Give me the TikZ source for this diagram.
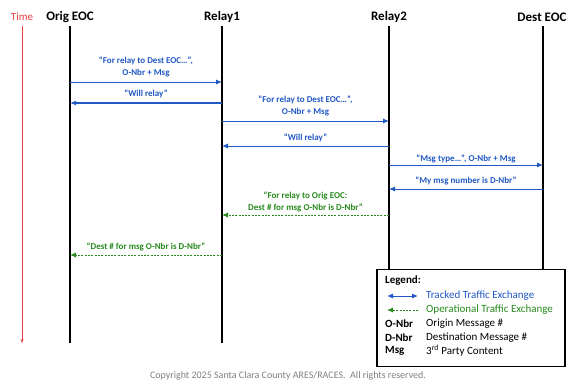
\documentclass[tikz,border=0pt]{standalone}
\usepackage{fontspec}
\setmainfont{Carlito}
\usetikzlibrary{arrows.meta, positioning}
\definecolor{trackblue}{RGB}{32,88,196}
\definecolor{opgreen}{RGB}{40,138,30}
\definecolor{timered}{RGB}{232,60,60}

\begin{document}
\begin{tikzpicture}[x=1pt, y=-1pt]
\tikzstyle{party}=[font=\bfseries\fontsize{13}{15}\selectfont, inner sep=0pt]
\tikzstyle{lifeline}=[line width=2.3pt, black]
\tikzstyle{tracked}=[-{Latex[length=6pt,width=5pt]}, trackblue, line width=0.9pt]
\tikzstyle{operational}=[-{Latex[length=6pt,width=5pt]}, opgreen, line width=0.8pt, dash pattern=on 2pt off 1.3pt]
\tikzstyle{msg}=[font=\bfseries\fontsize{9}{11.5}\selectfont, align=center, inner sep=1pt]
\tikzstyle{key}=[font=\fontsize{11}{13}\selectfont, anchor=west, inner sep=0pt]
\tikzstyle{keybold}=[key, font=\bfseries\fontsize{11}{13}\selectfont]
\useasboundingbox (0,0) rectangle (573,383);

% parties
\node (time) [font=\fontsize{11}{13}\selectfont, text=timered, inner sep=0pt] at (22,17) {Time};
\node (orig) [party] at (70,17) {Orig EOC};
\node (relay1) [party] at (222,17) {Relay1};
\node (relay2) [party] at (389,17) {Relay2};
\node (dest) [party] at (542,17) {Dest EOC};

% time axis and lifelines
\coordinate (timetop) at (22,26);
\coordinate (timeend) at (22,343);
\draw [-{Stealth[length=4pt,width=3pt]}, timered, line width=0.6pt] (timetop) -- (timeend);
\draw [lifeline] (70,26) -- (70,343);
\draw [lifeline] (222,26) -- (222,343);
\draw [lifeline] (389,26) -- (389,270);
\draw [lifeline] (543,26) -- (543,270);

% messages
\coordinate (o1) at (70,82);   \coordinate (r1a) at (222,82);
\coordinate (o2) at (70,103);  \coordinate (r1b) at (222,103);
\coordinate (r1c) at (222,121); \coordinate (r2a) at (389,121);
\coordinate (r1d) at (222,146); \coordinate (r2b) at (389,146);
\coordinate (r2c) at (389,165); \coordinate (d1) at (543,165);
\coordinate (r2d) at (389,189); \coordinate (d2) at (543,189);
\coordinate (r1e) at (222,215); \coordinate (r2e) at (389,215);
\coordinate (o3) at (70,255);  \coordinate (r1f) at (222,255);

\draw [tracked] (o1) -- node[msg, anchor=south, yshift=4pt]{``For relay to Dest EOC…'',\\O-Nbr + Msg} (r1a);
\draw [tracked, line width=1.2pt] (r1b) -- node[msg, anchor=south, yshift=3pt]{``Will relay''} (o2);
\draw [tracked] (r1c) -- node[msg, anchor=south, yshift=4pt]{``For relay to Dest EOC…'',\\O-Nbr + Msg} (r2a);
\draw [tracked] (r2b) -- node[msg, anchor=south, yshift=3pt]{``Will relay''} (r1d);
\draw [tracked] (r2c) -- node[msg, anchor=south, yshift=1pt]{``Msg type…'', O-Nbr + Msg} (d1);
\draw [tracked] (d2) -- node[msg, anchor=south, yshift=3pt]{``My msg number is D-Nbr''} (r2d);
\draw [operational] (r2e) -- node[msg, anchor=south, yshift=2pt, text=opgreen]{``For relay to Orig EOC:\\Dest \# for msg O-Nbr is D-Nbr''} (r1e);
\draw [operational] (r1f) -- node[msg, anchor=south, yshift=3pt, text=opgreen]{``Dest \# for msg O-Nbr is D-Nbr''} (o3);

% legend
\node (legend) [draw, line width=1.2pt, fill=white, minimum width=188pt, minimum height=97pt, inner sep=0pt] at (471,318) {};
\node (legtitle) [keybold] at (385,281) {Legend:};
\coordinate (tl) at (387,296); \coordinate (tr) at (418,296);
\draw [{Latex[length=6pt,width=5pt]}-{Latex[length=6pt,width=5pt]}, trackblue, line width=1pt] (tl) -- (tr);
\node (keytracked) [key, text=trackblue] at (426,296) {Tracked Traffic Exchange};
\coordinate (ol) at (387,310); \coordinate (or) at (418,310);
\draw [operational] (or) -- (ol);
\node (keyop) [key, text=opgreen] at (426,310) {Operational Traffic Exchange};
\node (onbr) [keybold] at (385,324) {O-Nbr};
\node (onbrtxt) [key] at (426,324) {Origin Message \#};
\node (dnbr) [keybold] at (385,338) {D-Nbr};
\node (dnbrtxt) [key] at (426,338) {Destination Message \#};
\node (msgk) [keybold] at (385,351) {Msg};
\node (msgtxt) [key] at (426,351) {3\textsuperscript{rd} Party Content};

% footer
\node (copy) [font=\fontsize{10}{12}\selectfont, text=gray, inner sep=0pt] at (288,376) {Copyright 2025 Santa Clara County ARES/RACES.\ \ All rights reserved.};
\end{tikzpicture}
\end{document}
